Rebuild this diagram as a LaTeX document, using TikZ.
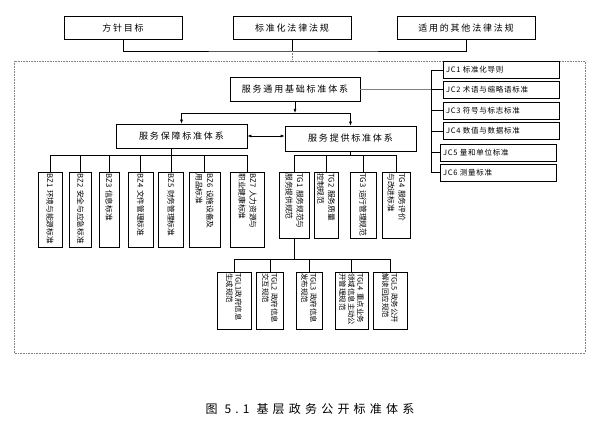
\documentclass[tikz,border=0pt]{standalone}
\usepackage{fontspec}
\setmainfont{Noto Sans CJK SC}
\newfontfamily\widecjk[LetterSpace=20]{Noto Sans CJK SC}
\newfontfamily\jccjk[LetterSpace=10]{Noto Sans CJK SC}
\newfontfamily\capcjk[LetterSpace=35]{Noto Sans CJK SC}
\usetikzlibrary{arrows.meta}

\begin{document}
\begin{tikzpicture}[x=1pt,y=-1pt,inner sep=0pt,line width=0.6pt,
  hbox/.style={draw,minimum height=23pt,font=\widecjk\fontsize{9}{10}\selectfont},
  jcbox/.style={draw,minimum height=17pt,inner xsep=3pt,text width=110pt,align=left,font=\jccjk\fontsize{7.5}{8}\selectfont},
  bzbox/.style={draw,rotate=-90,inner xsep=1.5pt,inner ysep=2pt,text width=72pt,align=left,font=\fontsize{7.7}{11}\selectfont},
  tgbox/.style={draw,rotate=-90,inner xsep=1.5pt,inner ysep=2pt,text width=63pt,align=left,font=\fontsize{7.7}{11}\selectfont},
  tglbox/.style={draw,rotate=-90,inner xsep=1.5pt,inner ysep=2pt,text width=54pt,align=left,font=\fontsize{7.4}{9}\selectfont},
  arr/.style={-{Latex[length=4pt,width=3pt]}},
  frame/.style={gray,densely dotted,line width=0.6pt}]

\useasboundingbox (0,0) rectangle (604,427);

% top row
\node[hbox,minimum width=118pt] (fzmb) at (123,28) {方针目标};
\node[hbox,minimum width=118pt] (bzfg) at (292,28) {标准化法律法规};
\node[hbox,minimum width=138pt] (syfg) at (466,28) {适用的其他法律法规};

\coordinate (topbus) at (292,51);
\coordinate (framein) at (292,61);

\draw[line width=0.8pt] (fzmb.south) |- (topbus) -| (syfg.south);
\draw (bzfg.south) -- (topbus);
\draw[frame] (topbus) -- (framein);

\draw[frame] (14,61) rectangle (585,353);

% base standards
\node[hbox,minimum width=130pt,minimum height=24pt] (base) at (295,89.5) {服务通用基础标准体系};

\foreach \n/\x/\y/\t in {1/501/70/{JC1 标准化导则},2/501/89.5/{JC2 术语与缩略语标准},
  3/501/110.5/{JC3 符号与标志标准},4/501/131/{JC4 数值与数据标准},
  5/498/152.5/{JC5 量和单位标准},6/498/172.5/{JC6 测量标准}}
  \node[jcbox] (jc\n) at (\x,\y) {\t};

\coordinate (trunk) at (431,0);
\draw (jc1.west -| trunk) -- (jc6.west -| trunk);
\foreach \n in {1,...,6}
  \draw (jc\n.west) -- (jc\n.west -| trunk);
\draw[gray,line width=1pt] (base.east) -- (base.east -| trunk);

% two sub systems
\node[hbox,minimum width=131pt,minimum height=24pt] (bzt) at (181.5,136) {服务保障标准体系};
\node[hbox,minimum width=131pt,minimum height=25pt] (tgt) at (350.5,138.5) {服务提供标准体系};

\coordinate (split) at (295,113);
\draw[arr] (base.south) -- (split);
\draw[arr] (split) -| (bzt.north);
\draw[arr] (split) -| (tgt.north);
\draw[{Latex[length=4pt,width=3pt]}-{Latex[length=4pt,width=3pt]}] (bzt.east) -- (bzt.east -| tgt.west);

% BZ row (rotated, so .west is the top)
\foreach \n/\x/\w/\t in {1/50/24/{BZ1~环境与能源标准},2/80.5/22/{BZ2~安全与应急标准},
  3/109/20/{BZ3~信息标准},4/140.5/25/{BZ4~文件管理标准},5/171/25/{BZ5~财务管理标准},
  6/204.5/31/{BZ6~设施设备及\\用品标准},7/247.5/34/{BZ7~人力资源与\\职业健康标准}}
  \node[bzbox,minimum height=\w pt] (bz\n) at (\x,209.5) {\t};

\draw (bz1.west) -- ++(0,-16) -| (bz7.west);
\foreach \n in {2,...,6}
  \draw (bz\n.west) -- ++(0,-16);
\draw (bz5.west) -- (bz5.west |- bzt.south);

% TG row
\foreach \n/\x/\w/\t in {1/294.5/30/{TG1~服务规范与\\服务提供规范},2/326/24/{TG2~服务质量\\控制规范},
  3/363/26/{TG3~运行管理规范},4/396.5/28/{TG4~服务评价\\与改进标准}}
  \node[tgbox,minimum height=\w pt] (tg\n) at (\x,205) {\t};

\coordinate (tgbus) at (350.5,156);
\draw (tg1.west) -- ++(0,-16) -| (tg4.west);
\foreach \n in {2,3}
  \draw (tg\n.west) -- ++(0,-16);
\draw (tgt.south) -- (tgbus);

% TGL row
\foreach \n/\x/\w/\t in {1/234/34/{TGL1政府信息\\生成规范},2/270/27/{TGL2~政府信息\\交互规范},
  3/309/26/{TGL3~政府信息\\发布规范},4/351.5/33/{TGL4~重点业务\\领域信息主动公\\开管理规范},
  5/390/34/{TGL5~政务公开\\解读回应规范}}
  \node[tglbox,minimum height=\w pt] (tgl\n) at (\x,300.5) {\t};

\draw (tgl1.west) -- ++(0,-12) -| (tgl5.west);
\foreach \n in {2,3,4}
  \draw (tgl\n.west) -- ++(0,-12);
\draw (tg1.east) -- ++(0,22);

% caption
\node (cap) at (310,409) {\capcjk\fontsize{12}{14}\selectfont 图 5.1 基层政务公开标准体系};

\end{tikzpicture}
\end{document}
